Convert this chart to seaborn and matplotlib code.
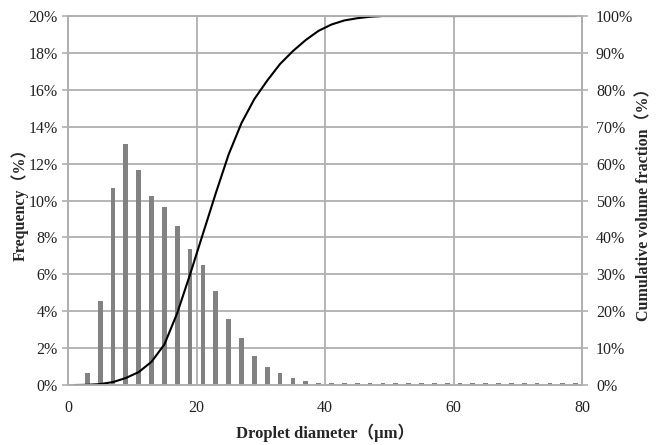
import matplotlib
matplotlib.use("Agg")
import matplotlib.pyplot as plt
import seaborn as sns

# diametro das classes (um)
diametro = [1, 3, 5, 7, 9, 11, 13, 15, 17, 19, 21, 23, 25, 27, 29, 31, 33, 35, 37, 39,
            41, 43, 45, 47, 49, 51, 53, 55, 57, 59, 61, 63, 65, 67, 69, 71, 73, 75, 77, 79]

# frequencia (%)
frequencia = [0.0, 0.67, 4.57, 10.7, 13.04, 11.67, 10.27, 9.64, 8.64, 7.37,
              6.52, 5.11, 3.6, 2.54, 1.56, 0.99, 0.67, 0.4, 0.22, 0.12,
              0.12, 0.12, 0.12, 0.12, 0.12, 0.12, 0.12, 0.12, 0.12, 0.12,
              0.12, 0.12, 0.12, 0.12, 0.12, 0.12, 0.12, 0.12, 0.12, 0.12]

# fracao volumetrica acumulada (%)
acumulada = [0.0, 0.05, 0.25, 0.8, 1.9, 3.5, 6.3, 11, 19.5, 30,
             41, 52, 62.5, 71, 77.5, 82.5, 87, 90.5, 93.5, 96,
             97.7, 98.8, 99.4, 99.8, 100, 100, 100, 100, 100, 100,
             100, 100, 100, 100, 100, 100, 100, 100, 100, 100]

ticks_x = [0, 20, 40, 60, 80]
ticks_freq = [0, 2, 4, 6, 8, 10, 12, 14, 16, 18, 20]
ticks_acum = [0, 10, 20, 30, 40, 50, 60, 70, 80, 90, 100]

sns.set_theme(style="white")
plt.rcParams["font.family"] = ["Liberation Serif", "Noto Sans CJK JP"]

cinza = "#b0b0b0"

fig = plt.figure(figsize=(6.57, 4.45), dpi=100)
ax = fig.add_axes([0.1035, 0.1348, 0.7825, 0.8292])

sns.barplot(x=diametro, y=frequencia, native_scale=True, width=0.37,
            color="#828282", saturation=1, errorbar=None, linewidth=0,
            ax=ax, zorder=3)

ax.set_xlim(0, 80)
ax.set_ylim(0, 20)
ax.set_xticks(ticks_x)
ax.set_xticklabels([str(t) for t in ticks_x])
ax.set_yticks(ticks_freq)
ax.set_yticklabels([f"{t}%" for t in ticks_freq])
ax.grid(True, color=cinza, linewidth=1.3, zorder=0)
ax.set_axisbelow(True)
ax.set_xlabel("Droplet diameter（μm）", fontweight="bold", fontsize=12, labelpad=5)
ax.set_ylabel("Frequency（%）", fontweight="bold", fontsize=11.5, labelpad=0)

ax2 = ax.twinx()
sns.lineplot(x=diametro, y=acumulada, color="black", linewidth=1.5, ax=ax2)
ax2.set_ylim(0, 100)
ax2.set_yticks(ticks_acum)
ax2.set_yticklabels([f"{t}%" for t in ticks_acum])
ax2.set_ylabel("Cumulative volume fraction（%）", fontweight="bold", fontsize=11.5, labelpad=2)
ax2.grid(False)

for eixo in (ax, ax2):
    for lado in eixo.spines.values():
        lado.set_color(cinza)
        lado.set_linewidth(1.3)
    eixo.tick_params(axis="both", which="both", direction="out", length=4,
                     width=1.2, color=cinza, labelsize=11.5, labelcolor="#222222")
ax.tick_params(axis="x", pad=7)
ax2.tick_params(axis="y", pad=6)

fig.savefig("out.png", dpi=100)
